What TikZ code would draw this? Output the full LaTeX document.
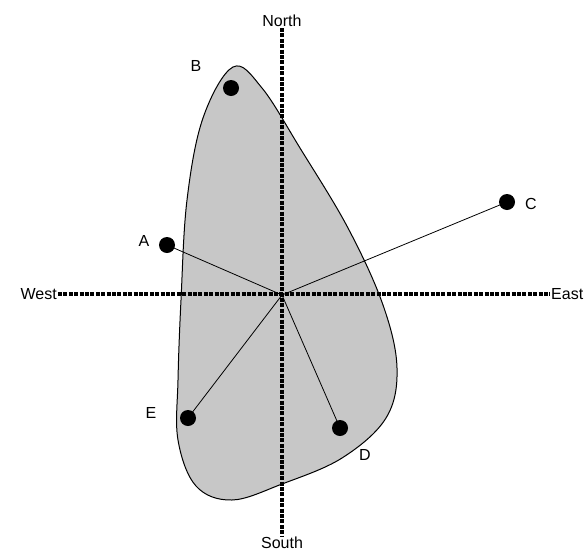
\documentclass[tikz,border=0pt]{standalone}
\usepackage{fontspec}
\setmainfont{Liberation Sans}
\definecolor{blobgray}{gray}{0.78}
\tikzset{
  dir/.style={font=\fontsize{16}{17}\selectfont,inner sep=1pt},
  plab/.style={font=\fontsize{16}{17}\selectfont,inner sep=0pt},
  site/.style={circle,fill=black,minimum size=16pt,inner sep=0pt},
  axis/.style={line width=3.6pt,dash pattern=on 4pt off 1.4pt},
  spoke/.style={line width=0.8pt},
}
\begin{document}
\begin{tikzpicture}[x=1pt,y=-1pt]
  \useasboundingbox (0,0) rectangle (585,552);
  % the shaded region
  \filldraw[fill=blobgray,draw=black,line width=1pt]
    plot[smooth cycle,tension=0.6] coordinates {
      (233,67) (262,88) (300,148) (348,228) (383,305) (397,368)
      (386,418) (342,458) (282,484) (232,500) (196,486) (178,440)
      (178,380) (181,300) (187,200) (203,118)};
  % compass
  \node[dir,anchor=south] (north) at (282,28) {North};
  \node[dir,anchor=north] (south) at (282,536) {South};
  \node[dir,anchor=east] (west) at (58,294) {West};
  \node[dir,anchor=west] (east) at (550,294) {East};
  \coordinate (O) at (282,295);
  \draw[axis] (north.south) -- (south.north);
  \draw[axis] (west.east) -- (east.west);
  % sites
  \node[site] (B) at (231,88) {};
  \node[site] (C) at (507,202) {};
  \node[site] (A) at (167,245) {};
  \node[site] (E) at (188,418) {};
  \node[site] (D) at (340,428) {};
  \node[plab] at (196,66) {B};
  \node[plab] at (531,204) {C};
  \node[plab] at (144,241) {A};
  \node[plab] at (151,413) {E};
  \node[plab] at (365,455) {D};
  \draw[spoke] (O) -- (A.center);
  \draw[spoke] (O) -- (C.center);
  \draw[spoke] (O) -- (E.center);
  \draw[spoke] (O) -- (D.center);
\end{tikzpicture}
\end{document}
